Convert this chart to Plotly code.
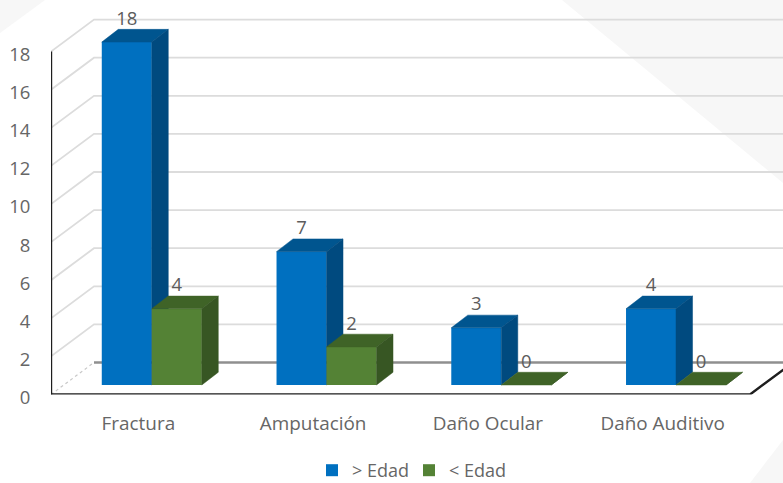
import plotly.graph_objects as go

categories = ["Fractura", "Amputación", "Daño Ocular", "Daño Auditivo"]
mayor_edad = [18, 7, 3, 4]
menor_edad = [4, 2, 0, 0]
y_ticks = [0, 2, 4, 6, 8, 10, 12, 14, 16, 18]

W, H = 783, 483
AX_L, AX_B = 51.0, 394.5
PX_CAT, PX_VAL = 174.75, 19.05
X_MAX = (W - AX_L) / PX_CAT
Y_MAX = AX_B / PX_VAL

WALL_DX, WALL_DY = 43 / PX_CAT, 32 / PX_VAL
BAR_W = 50 / PX_CAT
BAR_DX, BAR_DY = 16.5 / PX_CAT, 12.7 / PX_VAL
SHIFT = 13.4 / PX_CAT
BASE = 0.5
LABEL_UP = 22 / PX_VAL

FONT = "Open Sans"
TXT = "#666666"
centers = [i + 0.5 + SHIFT for i in range(len(categories))]
blue_x = [c - BAR_W / 2 for c in centers]
green_x = [c + BAR_W / 2 for c in centers]


def faces(xs, vals):
    tx, ty, sx, sy = [], [], [], []
    for x, v in zip(xs, vals):
        l, r, t = x - BAR_W / 2, x + BAR_W / 2, BASE + v
        tx += [l, r, r + BAR_DX, l + BAR_DX, l, None]
        ty += [t, t, t + BAR_DY, t + BAR_DY, t, None]
        sx += [r, r + BAR_DX, r + BAR_DX, r, r, None]
        sy += [BASE, BASE + BAR_DY, t + BAR_DY, t, BASE, None]
    return tx, ty, sx, sy


def poly(x, y, color, xa, ya):
    return go.Scatter(x=x, y=y, mode="lines", fill="toself", fillcolor=color,
                      line=dict(color=color, width=0.5), hoverinfo="skip",
                      showlegend=False, xaxis=xa, yaxis=ya)


def line(x, y, color, width, dash="solid"):
    return go.Scatter(x=x, y=y, mode="lines", line=dict(color=color, width=width, dash=dash),
                      hoverinfo="skip", showlegend=False, xaxis="x", yaxis="y")


fig = go.Figure()

# walls and gridlines
for v in y_ticks[1:]:
    fig.add_trace(line([0, WALL_DX, X_MAX], [v, v + WALL_DY, v + WALL_DY], "#dcdcdc", 1.8))
fig.add_trace(line([0, WALL_DX], [0, WALL_DY], "#c8c8c8", 1.2, "dot"))
fig.add_trace(line([WALL_DX, X_MAX], [WALL_DY, WALL_DY], "#8f8f8f", 2.6))
fig.add_trace(line([0, 0], [0, y_ticks[-1]], "#1e1e1e", 2.4))
fig.add_trace(line([0, len(categories), len(categories) + WALL_DX],
                   [0, 0, WALL_DY], "#1e1e1e", 2.4))

# blue series
tx, ty, sx, sy = faces(blue_x, mayor_edad)
fig.add_trace(go.Bar(x=blue_x, y=mayor_edad, base=BASE, width=BAR_W, name="> Edad",
                     marker=dict(color="#0070c0", line=dict(width=0)), hoverinfo="skip",
                     xaxis="x2", yaxis="y2"))
fig.add_trace(poly(tx, ty, "#00558f", "x2", "y2"))
fig.add_trace(poly(sx, sy, "#004a7f", "x2", "y2"))

# green series
tx, ty, sx, sy = faces(green_x, menor_edad)
fig.add_trace(go.Bar(x=green_x, y=menor_edad, base=BASE, width=BAR_W, name="< Edad",
                     marker=dict(color="#548235", line=dict(width=0)), hoverinfo="skip",
                     xaxis="x3", yaxis="y3"))
fig.add_trace(poly(tx, ty, "#3f6327", "x3", "y3"))
fig.add_trace(poly(sx, sy, "#375623", "x3", "y3"))

# data labels
fig.add_trace(go.Scatter(
    x=blue_x + green_x,
    y=[BASE + v + LABEL_UP for v in mayor_edad + menor_edad],
    text=[str(v) for v in mayor_edad + menor_edad],
    mode="text", textposition="middle center",
    textfont=dict(family=FONT, size=18.5, color="#5c5c5c"),
    hoverinfo="skip", showlegend=False, xaxis="x3", yaxis="y3"))

tri = [
    "M 0 0 L 45 0 L 0 33 Z",
    "M 562 0 L 783 0 L 783 183 Z",
    "M 750 483 L 783 440 L 783 483 Z",
]


def to_paper(path):
    out, is_x = [], True
    for tok in path.split():
        if tok.isalpha():
            out.append(tok)
        elif is_x:
            out.append(f"{float(tok) / W:.5f}")
            is_x = False
        else:
            out.append(f"{1 - float(tok) / H:.5f}")
            is_x = True
    return " ".join(out)


hidden = dict(visible=False, fixedrange=True)
fig.update_layout(
    width=W, height=H, autosize=False,
    margin=dict(l=0, r=0, t=0, b=0, autoexpand=False),
    paper_bgcolor="white", plot_bgcolor="rgba(0,0,0,0)",
    barmode="overlay", font=dict(family=FONT, color=TXT),
    shapes=[dict(type="path", path=to_paper(p), xref="paper", yref="paper",
                 fillcolor="#f7f7f7", line=dict(width=0), layer="below") for p in tri],
    xaxis=dict(domain=[AX_L / W, 1], range=[0, X_MAX], tickmode="array",
               tickvals=[i + 0.5 for i in range(len(categories))], ticktext=categories,
               ticks="outside", ticklen=12, tickcolor="rgba(0,0,0,0)",
               showgrid=False, zeroline=False, showline=False,
               tickfont=dict(family=FONT, size=18.9, color=TXT)),
    yaxis=dict(domain=[1 - AX_B / H, 1], range=[0, Y_MAX], tickmode="array",
               tickvals=y_ticks, ticks="outside", ticklen=16, tickcolor="rgba(0,0,0,0)",
               ticklabelshift=3,
               showgrid=False, zeroline=False, showline=False,
               tickfont=dict(family=FONT, size=18.5, color=TXT)),
    xaxis2=dict(overlaying="x", range=[0, X_MAX], **hidden),
    yaxis2=dict(overlaying="y", range=[0, Y_MAX], **hidden),
    xaxis3=dict(overlaying="x", range=[0, X_MAX], **hidden),
    yaxis3=dict(overlaying="y", range=[0, Y_MAX], **hidden),
    legend=dict(orientation="h", x=409 / W, xanchor="center", y=1 - 470.5 / H, yanchor="middle",
                font=dict(family=FONT, size=18, color=TXT), bgcolor="rgba(0,0,0,0)",
                itemwidth=30, entrywidth=52, entrywidthmode="pixels"),
)
fig.write_html("out.html", config={"displayModeBar": False},
               post_script="document.body.style.margin='0';")
